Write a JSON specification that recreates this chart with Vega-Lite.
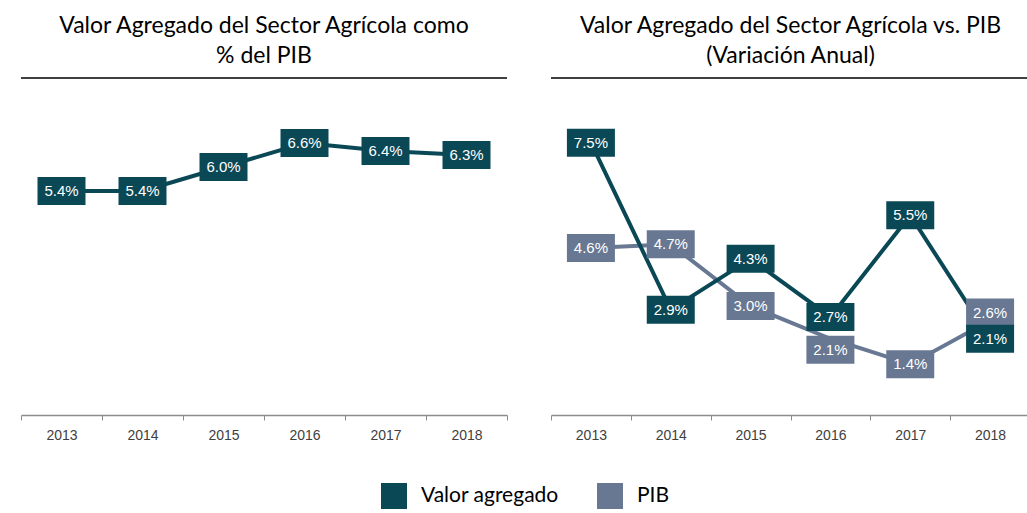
{
  "$schema": "https://vega.github.io/schema/vega-lite/v6.json",
  "padding": {"left": 20, "top": 15, "right": 0, "bottom": 2},
  "datasets": {
    "left": [
      {"serie": "Valor agregado", "year": "2013", "value": 5.4},
      {"serie": "Valor agregado", "year": "2014", "value": 5.4},
      {"serie": "Valor agregado", "year": "2015", "value": 6.0},
      {"serie": "Valor agregado", "year": "2016", "value": 6.6},
      {"serie": "Valor agregado", "year": "2017", "value": 6.4},
      {"serie": "Valor agregado", "year": "2018", "value": 6.3}
    ],
    "right": [
      {"serie": "PIB", "year": "2013", "value": 4.6},
      {"serie": "PIB", "year": "2014", "value": 4.7},
      {"serie": "PIB", "year": "2015", "value": 3.0},
      {"serie": "PIB", "year": "2016", "value": 2.1},
      {"serie": "PIB", "year": "2017", "value": 1.4},
      {"serie": "PIB", "year": "2018", "value": 2.6},
      {"serie": "Valor agregado", "year": "2013", "value": 7.5},
      {"serie": "Valor agregado", "year": "2014", "value": 2.9},
      {"serie": "Valor agregado", "year": "2015", "value": 4.3},
      {"serie": "Valor agregado", "year": "2016", "value": 2.7},
      {"serie": "Valor agregado", "year": "2017", "value": 5.5},
      {"serie": "Valor agregado", "year": "2018", "value": 2.1}
    ]
  },
  "hconcat": [
    {
      "width": 486,
      "height": 337,
      "title": {"text": ["Valor Agregado  del Sector Agrícola como", "% del PIB"]},
      "layer": [
        {
          "data": {"values": [{}]},
          "mark": {"type": "rule", "color": "#000000", "strokeWidth": 1.5},
          "encoding": {"y": {"datum": 8.225, "type": "quantitative", "scale": {"domain": [-0.2, 8.225]}, "axis": null}}
        },
        {
          "data": {"name": "left"},
          "mark": {"type": "line", "strokeWidth": 4},
          "encoding": {
            "x": {"field": "year", "type": "ordinal", "scale": {"type": "band", "paddingInner": 0, "paddingOuter": 0}},
            "y": {"field": "value", "type": "quantitative", "scale": {"domain": [-0.2, 8.225]}, "axis": null},
            "color": {"field": "serie", "type": "nominal", "scale": {"domain": ["Valor agregado", "PIB"], "range": ["#0A4856", "#687893"]}, "legend": {"symbolType": "square"}}
          }
        },
        {
          "data": {"name": "left"},
          "mark": {"type": "point", "filled": true, "opacity": 1, "strokeWidth": 0, "size": 2304, "shape": "M-1,-0.5833L1,-0.5833L1,0.5833L-1,0.5833Z"},
          "encoding": {
            "x": {"field": "year", "type": "ordinal"},
            "y": {"field": "value", "type": "quantitative", "scale": {"domain": [-0.2, 8.225]}, "axis": null},
            "color": {"field": "serie", "type": "nominal", "legend": {"symbolType": "square"}}
          }
        },
        {
          "data": {"name": "left"},
          "mark": {"type": "text", "color": "#ffffff", "font": "Liberation Sans", "fontSize": 15, "text": {"expr": "format(datum.value, '.1f') + '%'"}},
          "encoding": {
            "x": {"field": "year", "type": "ordinal"},
            "y": {"field": "value", "type": "quantitative", "scale": {"domain": [-0.2, 8.225]}, "axis": null}
          }
        }
      ]
    },
    {
      "width": 479,
      "height": 337,
      "title": {"text": ["Valor Agregado  del Sector Agrícola vs. PIB", "(Variación Anual)"]},
      "layer": [
        {
          "data": {"values": [{}]},
          "mark": {"type": "rule", "color": "#000000", "strokeWidth": 1.5},
          "encoding": {"y": {"datum": 9.28, "type": "quantitative", "scale": {"domain": [0, 9.28]}, "axis": null}}
        },
        {
          "data": {"name": "right"},
          "mark": {"type": "line", "strokeWidth": 4},
          "encoding": {
            "x": {"field": "year", "type": "ordinal", "scale": {"type": "band", "paddingInner": 0, "paddingOuter": 0}},
            "y": {"field": "value", "type": "quantitative", "scale": {"domain": [0, 9.28]}, "axis": null},
            "color": {"field": "serie", "type": "nominal", "legend": {"symbolType": "square"}}
          }
        },
        {
          "data": {"name": "right"},
          "mark": {"type": "point", "filled": true, "opacity": 1, "strokeWidth": 0, "size": 2304, "shape": "M-1,-0.5833L1,-0.5833L1,0.5833L-1,0.5833Z",
                   "yOffset": {"expr": "datum.serie == 'PIB' && datum.year == '2016' ? 11 : (datum.serie == 'PIB' && datum.year == '2018' ? -8 : 0)"}},
          "encoding": {
            "x": {"field": "year", "type": "ordinal"},
            "y": {"field": "value", "type": "quantitative", "scale": {"domain": [0, 9.28]}, "axis": null},
            "color": {"field": "serie", "type": "nominal", "legend": {"symbolType": "square"}}
          }
        },
        {
          "data": {"name": "right"},
          "mark": {"type": "text", "color": "#ffffff", "font": "Liberation Sans", "fontSize": 15, "text": {"expr": "format(datum.value, '.1f') + '%'"},
                   "yOffset": {"expr": "datum.serie == 'PIB' && datum.year == '2016' ? 11 : (datum.serie == 'PIB' && datum.year == '2018' ? -8 : 0)"}},
          "encoding": {
            "x": {"field": "year", "type": "ordinal"},
            "y": {"field": "value", "type": "quantitative", "scale": {"domain": [0, 9.28]}, "axis": null}
          }
        }
      ]
    }
  ],
  "spacing": 42,
  "resolve": {"scale": {"color": "shared"}, "legend": {"color": "shared"}},
  "config": {
    "view": {"stroke": null},
    "title": {"font": "Lato", "fontSize": 23, "fontWeight": "normal", "color": "#000000", "lineHeight": 30, "offset": 9, "anchor": "middle"},
    "axisX": {"title": null, "labelAngle": 0, "domainColor": "#8c8c8c", "domainWidth": 1.5, "tickColor": "#8c8c8c", "tickBand": "extent", "tickSize": 5, "labelFont": "Liberation Sans", "labelFontSize": 14, "labelColor": "#404040", "labelPadding": 8, "grid": false},
    "legend": {"orient": "bottom", "layout": {"bottom": {"anchor": "middle"}}, "direction": "horizontal", "title": null, "symbolType": "square", "symbolSize": 676, "symbolStrokeWidth": 0, "symbolOpacity": 1, "labelFont": "Lato", "labelFontSize": 21, "labelColor": "#000000", "labelOffset": 14, "columnPadding": 38, "offset": 41}
  }
}
